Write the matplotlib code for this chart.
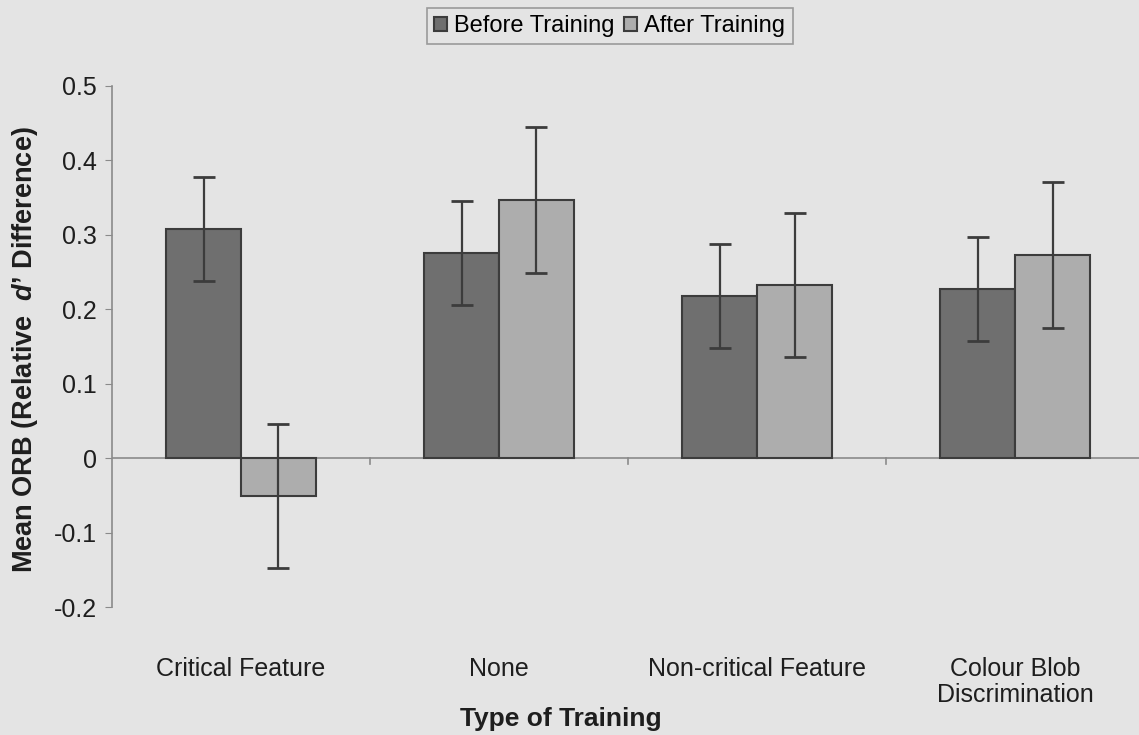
import numpy as np
import matplotlib
matplotlib.use("Agg")
from matplotlib import pyplot as plt

plt.rcParams['font.family'] = ['Liberation Sans', 'DejaVu Sans']
plt.rcParams['mathtext.fontset'] = 'custom'
plt.rcParams['mathtext.bfit'] = 'Liberation Sans:italic:bold'
plt.rcParams['mathtext.it'] = 'Liberation Sans:italic'

# Datos
categories = ["Critical Feature", "None", "Non-critical Feature", "Colour Blob\nDiscrimination"]
before = [0.308, 0.276, 0.218, 0.227]
after = [-0.051, 0.347, 0.233, 0.273]
err_before = [0.070, 0.070, 0.070, 0.070]
err_after = [0.097, 0.098, 0.097, 0.098]
yticks = [-0.2, -0.1, 0, 0.1, 0.2, 0.3, 0.4, 0.5]
ytick_labels = ["-0.2", "-0.1", "0", "0.1", "0.2", "0.3", "0.4", "0.5"]

bg = "#e4e4e4"
dark = "#6f6f6f"
light = "#adadad"
edge = "#3c3c3c"
txt = "#1e1e1e"

fig = plt.figure(figsize=(11.39, 7.35), dpi=100, facecolor=bg)
ax = fig.add_axes([0.0983, 0.174, 0.9017, 0.709])
ax.set_facecolor(bg)

x = np.arange(len(categories))
w = 0.29
err_kw = dict(ecolor=edge, elinewidth=1.6, capsize=8, capthick=2)
ax.bar(x - w / 2, before, w, color=dark, edgecolor=edge, linewidth=1.5,
       yerr=err_before, error_kw=err_kw, label="Before Training", zorder=2)
ax.bar(x + w / 2, after, w, color=light, edgecolor=edge, linewidth=1.5,
       yerr=err_after, error_kw=err_kw, label="After Training", zorder=2)

# el escaneo corta la última categoría por la derecha
ax.set_xlim(-0.5, 3.48)
ax.set_ylim(-0.2, 0.5)

# Eje horizontal en cero con marcas entre categorías
ax.axhline(0, color="#8a8a8a", linewidth=1.2, zorder=1)
for b in np.arange(0.5, len(categories) - 0.5, 1):
    ax.plot([b, b], [0, -0.008], color="#8a8a8a", linewidth=1.2, zorder=1)

for s in ["top", "right", "bottom"]:
    ax.spines[s].set_visible(False)
ax.spines["left"].set_color("#8a8a8a")
ax.spines["left"].set_linewidth(1.2)

ax.set_yticks(yticks)
ax.set_yticklabels(ytick_labels, fontsize=18, color=txt)
ax.tick_params(axis="y", direction="out", length=5, color="#8a8a8a", pad=6)

ax.set_xticks(x)
ax.set_xticklabels(categories, fontsize=18, color=txt, linespacing=1.1)
ax.tick_params(axis="x", length=0, pad=36)

ax.set_xlabel("Type of Training", fontsize=19, fontweight="bold", color=txt)
ax.xaxis.set_label_coords(0.437, -0.192)
ax.set_ylabel("Mean ORB (Relative  $\\mathbfit{d}$\u2019 Difference)", fontsize=19.5,
              fontweight="bold", color=txt)
ax.yaxis.set_label_coords(-0.07, 0.494)

leg = fig.legend(loc="upper center", bbox_to_anchor=(0.5355, 1.005), ncol=2, fontsize=17,
                 frameon=True, fancybox=False, edgecolor="#888888", facecolor=bg,
                 handlelength=0.55, handleheight=0.55, handletextpad=0.3, columnspacing=0.4,
                 borderpad=0.3)
leg.get_frame().set_linewidth(1.2)

fig.savefig("out.png", dpi=100, facecolor=bg)
